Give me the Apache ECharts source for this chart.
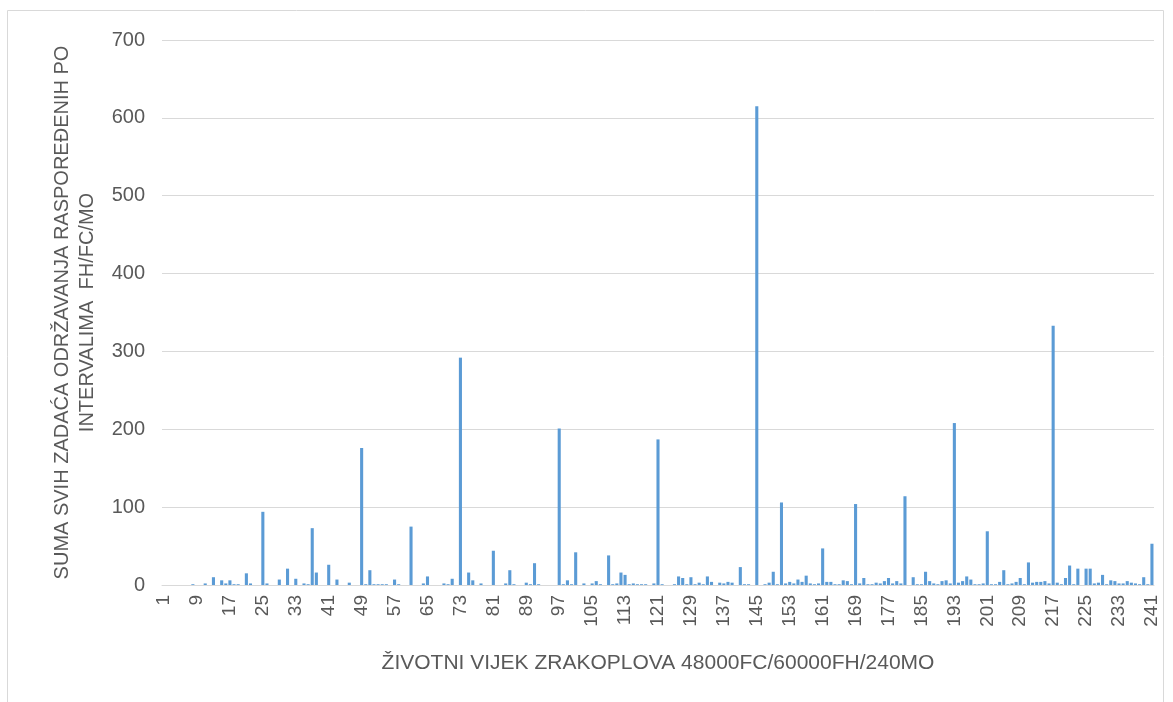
<!DOCTYPE html>
<html>
<head>
<meta charset="utf-8">
<script src="https://cdn.jsdelivr.net/npm/echarts@6/dist/echarts.min.js"></script>
<style>
  html, body { margin: 0; padding: 0; background: #fff; }
  #chart { width: 1173px; height: 702px; }
</style>
</head>
<body>
<div id="chart"></div>
<script>
// months of aircraft life, 1..241
var months = [];
for (var m = 1; m <= 241; m++) months.push(String(m));

// sum of maintenance tasks per interval
var taskSums = [
  0, 0, 0, 0, 0, 0, 0, 1, 0, 0,
  2, 0, 10, 0, 6, 2, 6, 1, 1, 0,
  15, 2, 0, 0, 94, 2, 0, 0, 7, 0,
  21, 0, 8, 0, 2, 1, 73, 16, 0, 0,
  26, 0, 7, 0, 0, 3, 0, 0, 176, 1,
  19, 1, 1, 1, 1, 0, 7, 1, 0, 0,
  75, 0, 0, 2, 11, 0, 0, 0, 2, 1,
  8, 0, 292, 0, 16, 6, 0, 2, 0, 0,
  44, 0, 0, 2, 19, 1, 0, 0, 3, 1,
  28, 1, 0, 0, 0, 0, 201, 1, 6, 1,
  42, 0, 2, 0, 2, 5, 1, 0, 38, 1,
  2, 16, 13, 1, 2, 1, 1, 1, 0, 2,
  187, 1, 0, 0, 1, 11, 9, 1, 10, 1,
  3, 1, 11, 4, 0, 3, 2, 4, 3, 0,
  23, 1, 1, 0, 615, 0, 1, 3, 17, 1,
  106, 2, 4, 2, 7, 4, 12, 2, 1, 2,
  47, 4, 4, 1, 1, 6, 5, 1, 104, 2,
  9, 1, 1, 3, 2, 5, 9, 2, 5, 2,
  114, 0, 10, 1, 1, 17, 5, 2, 1, 5,
  6, 2, 208, 3, 5, 11, 7, 1, 1, 2,
  69, 1, 1, 4, 19, 1, 2, 4, 9, 1,
  29, 3, 4, 4, 5, 2, 333, 3, 1, 9,
  25, 1, 21, 0, 21, 21, 2, 3, 13, 1,
  6, 5, 2, 2, 5, 3, 2, 1, 10, 1,
  53
];

var yName = "SUMA SVIH ZADAĆA ODRŽAVANJA RASPOREĐENIH PO\nINTERVALIMA  FH/FC/MO";
var xName = "ŽIVOTNI VIJEK ZRAKOPLOVA 48000FC/60000FH/240MO";

var myChart = echarts.init(document.getElementById("chart"));
var textFont = "Liberation Sans";

var option = {
  animation: false,
  textStyle: { fontFamily: textFont },
  graphic: [
    {
      type: "rect",
      shape: { x: 7.5, y: 10.5, width: 1156, height: 700 },
      style: { fill: "none", stroke: "#d9d9d9", lineWidth: 1 },
      silent: true
    }
  ],
  grid: {
    left: 162,
    right: 19,
    top: 40,
    bottom: 117,
    containLabel: false
  },
  xAxis: {
    type: "category",
    data: months,
    name: xName,
    nameLocation: "middle",
    nameGap: 68,
    nameTextStyle: { color: "#595959", fontSize: 21, fontFamily: textFont },
    axisLine: { lineStyle: { color: "#d9d9d9", width: 1 } },
    axisTick: { show: false },
    axisLabel: {
      interval: 7,
      rotate: 90,
      margin: 10,
      color: "#595959",
      fontSize: 19,
      fontFamily: textFont
    }
  },
  yAxis: {
    type: "value",
    min: 0,
    max: 700,
    interval: 100,
    name: yName,
    nameLocation: "middle",
    nameGap: 62,
    nameTextStyle: {
      color: "#595959",
      fontSize: 20,
      lineHeight: 25,
      align: "center",
      fontFamily: textFont
    },
    axisLine: { show: false },
    axisTick: { show: false },
    axisLabel: {
      margin: 17,
      color: "#595959",
      fontSize: 20,
      fontFamily: textFont
    },
    splitLine: { lineStyle: { color: "#d9d9d9", width: 1 } }
  },
  series: [
    {
      name: "zadaci",
      type: "bar",
      data: taskSums,
      barWidth: "75%",
      itemStyle: { color: "#5b9bd5" }
    }
  ]
};
myChart.setOption(option);

window.addEventListener("resize", function () {
  myChart.resize();
});
</script>
</body>
</html>
